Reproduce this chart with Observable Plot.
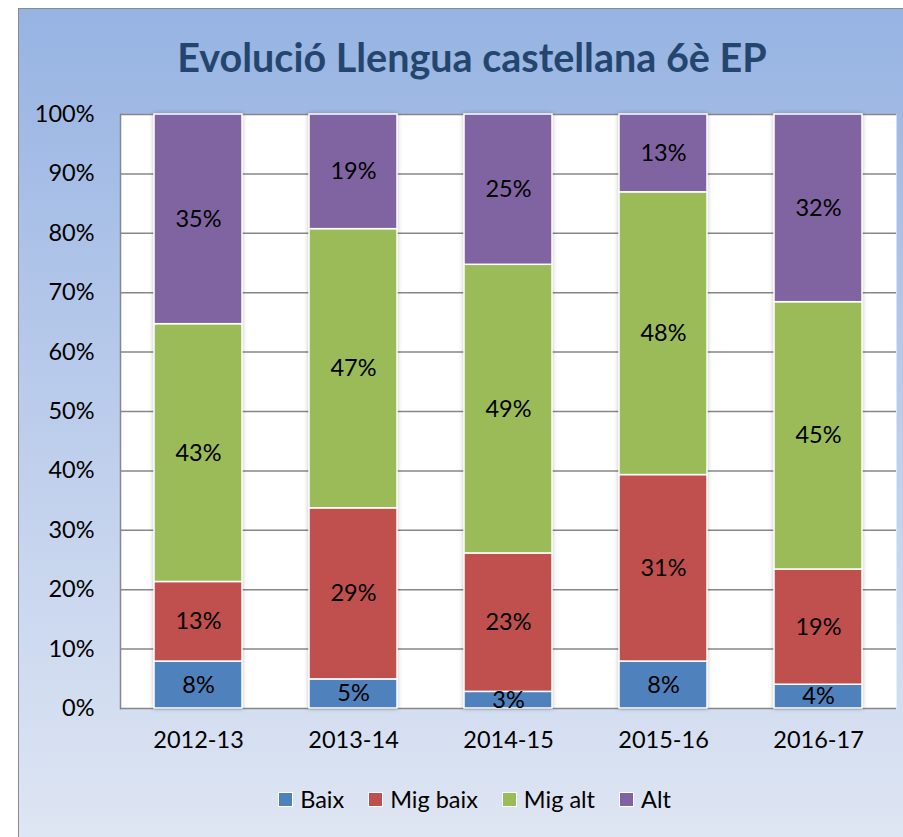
<!DOCTYPE html>
<html>
<head>
<meta charset="utf-8">
<script src="https://cdn.jsdelivr.net/npm/d3@7"></script>
<script src="https://cdn.jsdelivr.net/npm/@observablehq/plot@0.6"></script>
<style>
  html, body { margin: 0; padding: 0; background: #ffffff; }
  body { width: 903px; height: 837px; position: relative; overflow: hidden; font-family: Lato, "Open Sans", sans-serif; }
  #frame { position: absolute; left: 18px; top: 8px; width: 900px; height: 840px; box-sizing: border-box;
           border: 1.5px solid #8a8a8a; background: linear-gradient(180deg, #96b3e2 0%, #b9cbeb 45%, #dfe6f3 100%); }
  #title { position: absolute; left: 0; top: 33px; width: 944px; text-align: center; font-weight: 700;
           font-size: 39.5px; color: #24466e; font-family: Lato, sans-serif; white-space: nowrap; }
  #chart { position: absolute; left: 0; top: 0; }
  #legend { position: absolute; left: 0; top: 785px; width: 903px; display: flex; justify-content: center; align-items: center;
            font-size: 23.5px; color: #000; padding-left: 46px; box-sizing: border-box; }
  .item { display: flex; align-items: center; margin: 0 12px; }
  .sw { width: 13px; height: 13px; border: 1px solid #fff; margin-right: 7px; }
</style>
</head>
<body>
<div id="frame"></div>
<div id="title">Evolució Llengua castellana 6è EP</div>
<div id="chart"></div>
<div id="legend"></div>
<script>
// ---- data ----
const years = ["2012-13", "2013-14", "2014-15", "2015-16", "2016-17"];
const levels = ["Baix", "Mig baix", "Mig alt", "Alt"];
const baix    = [0.079, 0.049, 0.028, 0.079, 0.040];
const migBaix = [0.134, 0.288, 0.233, 0.314, 0.194];
const migAlt  = [0.434, 0.470, 0.486, 0.476, 0.450];
const alt     = [0.353, 0.193, 0.253, 0.131, 0.316];
const yTicks  = [0, 0.1, 0.2, 0.3, 0.4, 0.5, 0.6, 0.7, 0.8, 0.9, 1.0];
const colors  = ["#4f81bd", "#c0504d", "#9bbb59", "#8064a2"];

const series = [baix, migBaix, migAlt, alt];
const rows = [];
years.forEach((yr, i) => {
  levels.forEach((lv, j) => rows.push({year: yr, level: lv, value: series[j][i]}));
});

const fmt = d3.format(".0%");

const chart = Plot.plot({
  width: 903,
  height: 770,
  marginLeft: 120,
  marginRight: 7,
  marginTop: 114,
  marginBottom: 62,
  style: {background: "transparent", fontFamily: "Lato, sans-serif", fontSize: "23.5px", color: "#000"},
  x: {domain: years, paddingInner: 0.433, paddingOuter: 0.2165, label: null},
  y: {domain: [0, 1], label: null},
  color: {domain: levels, range: colors},
  marks: [
    Plot.frame({fill: "#ffffff", stroke: null}),
    Plot.ruleY(yTicks, {stroke: "#878787", strokeWidth: 1.5}),
    Plot.frame({anchor: "left", stroke: "#878787", strokeWidth: 1.5}),
    Plot.axisY({ticks: yTicks, tickFormat: fmt, tickSize: 0, tickPadding: 26, fontSize: 23.5}),
    Plot.axisX({tickSize: 0, tickPadding: 23, fontSize: 23.5}),
    Plot.barY(rows, Plot.stackY({x: "year", y: "value", fill: "level", stroke: "#ffffff", strokeWidth: 1.5})),
    Plot.text(rows, Plot.stackY({x: "year", y: "value", text: d => fmt(d.value), fill: "#000", fontSize: 23.5}))
  ]
});
document.getElementById("chart").appendChild(chart);

const svg = d3.select(chart);
svg.selectAll("g[aria-label='bar']").style("filter", "drop-shadow(0px 0px 2px rgba(0,0,0,0.25))");

// legend
const lg = document.getElementById("legend");
levels.forEach((lv, j) => {
  const it = document.createElement("div");
  it.className = "item";
  const sw = document.createElement("div");
  sw.className = "sw";
  sw.style.background = colors[j];
  const tx = document.createElement("span");
  tx.textContent = lv;
  it.appendChild(sw); it.appendChild(tx);
  lg.appendChild(it);
});
</script>
</body>
</html>
